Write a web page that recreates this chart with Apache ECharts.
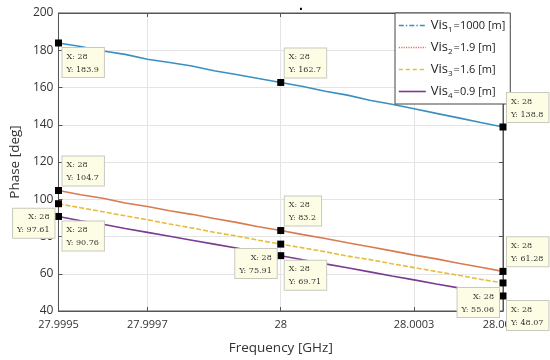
<!DOCTYPE html>
<html>
<head>
<meta charset="utf-8">
<script src="https://cdn.jsdelivr.net/npm/echarts@6/dist/echarts.min.js"></script>
<style>html,body{margin:0;padding:0;background:#fff}#c{width:550px;height:360px}</style>
</head>
<body>
<div id="c"></div>
<script>
// ---- data ----
var freq = [27.9995, 27.99955, 27.9996, 27.99965, 27.9997, 27.99975, 27.9998, 27.99985, 27.9999, 27.99995,
            28, 28.00005, 28.0001, 28.00015, 28.0002, 28.00025, 28.0003, 28.00035, 28.0004, 28.00045, 28.0005];
var vis1 = [183.9, 182.0, 179.6, 177.8, 175.2, 173.4, 171.5, 169.0, 167.0, 164.8, 162.7, 160.5, 158.0, 155.9, 153.2, 151.0, 148.6, 146.1, 143.7, 141.2, 138.8];
var vis2 = [104.7, 102.4, 100.5, 98.0, 96.1, 93.8, 91.9, 89.7, 87.6, 85.2, 83.2, 81.0, 78.9, 76.6, 74.5, 72.3, 70.0, 68.0, 65.6, 63.5, 61.28];
var vis3 = [97.61, 95.4, 93.3, 91.1, 89.0, 86.7, 84.6, 82.3, 80.3, 78.0, 75.91, 73.9, 71.8, 69.5, 67.6, 65.4, 63.3, 61.2, 59.2, 57.0, 55.06];
var vis4 = [90.76, 88.5, 86.6, 84.3, 82.2, 80.1, 78.0, 75.9, 73.8, 71.7, 69.71, 67.5, 65.3, 63.2, 61.0, 58.8, 56.7, 54.5, 52.4, 50.2, 48.07];
var seriesNames = ['Vis1=1000 [m]', 'Vis2=1.9 [m]', 'Vis3=1.6 [m]', 'Vis4=0.9 [m]'];
var legendSub = ['1', '2', '3', '4'];
var legendRest = ['=1000 [m]', '=1.9 [m]', '=1.6 [m]', '=0.9 [m]'];
var xTicks = [27.9995, 27.9997, 28, 28.0003, 28.0005];
var yMin = 40, yMax = 200, yStep = 20;
// data tips: [x, y] per series (left, middle, right)
var tipX = [27.9995, 28, 28.0005];
var tipXText = '28';
var tips1 = [183.9, 162.7, 138.8];
var tips2 = [104.7, 83.2, 61.28];
var tips3 = [97.61, 75.91, 55.06];
var tips4 = [90.76, 69.71, 48.07];

// ---- styles ----
var colors = ['#3a8fc2', '#d97a50', '#e6bd3c', '#7a3b92'];
var plotLineTypes = ['solid', 'solid', [5, 2], 'solid'];
var legendLineTypes = [[5, 2, 1.5, 2], [1.2, 1.2], [4, 3], 'solid'];
// tip placement per series per tip: [horizontal side, vertical side]
var tipPlace = [
  [['r', 'b'], ['r', 'a'], ['r', 'a']],
  [['r', 'a'], ['r', 'a'], ['r', 'a']],
  [['l', 'b'], ['l', 'b'], ['l', 'b']],
  [['r', 'b'], ['r', 'b'], ['r', 'b']]
];
var tipsAll = [tips1, tips2, tips3, tips4];
var dataAll = [vis1, vis2, vis3, vis4];

function fmtY(v) { return String(v); }

function makeMarkPoint(si) {
  var data = tipX.map(function (x, k) {
    var pl = tipPlace[si][k];
    var right = pl[0] === 'r';
    var above = pl[1] === 'a';
    var px = right ? 3.5 + 4 : 3.5 - 4;
    var py = above ? 3.5 - 5 : 3.5 + 5;
    return {
      coord: [x, tipsAll[si][k]],
      label: {
        show: true,
        position: [px, py],
        align: right ? 'left' : 'right',
        verticalAlign: above ? 'bottom' : 'top',
        formatter: 'X: ' + tipXText + '\nY: ' + fmtY(tipsAll[si][k])
      }
    };
  });
  return {
    symbol: 'rect',
    symbolSize: 7,
    itemStyle: { color: '#000' },
    z: 10,
    label: {
      fontFamily: 'DejaVu Serif',
      fontSize: 8,
      lineHeight: 13,
      color: '#333',
      backgroundColor: '#fdfde6',
      borderColor: '#c9c9c0',
      borderWidth: 1,
      padding: [2, 5, 1, 4]
    },
    data: data
  };
}

var series = dataAll.map(function (vals, si) {
  return {
    name: seriesNames[si],
    type: 'line',
    data: freq.map(function (f, i) { return [f, vals[i]]; }),
    showSymbol: false,
    symbol: 'none',
    lineStyle: { color: colors[si], width: 1.6, type: plotLineTypes[si] },
    itemStyle: { color: colors[si] },
    emphasis: { disabled: true },
    animation: false,
    markPoint: makeMarkPoint(si)
  };
});

var axisColor = '#555';

var option = {
  animation: false,
  title: { text: '.', left: 294, top: -6, textStyle: { fontSize: 14, color: '#000' } },
  grid: { left: 47, right: 47, top: 13, bottom: 44, show: true, borderColor: axisColor, borderWidth: 1, backgroundColor: 'transparent' },
  legend: {
    orient: 'vertical',
    left: 395,
    top: 13,
    itemWidth: 27,
    itemHeight: 12,
    itemGap: 7,
    padding: [6, 5, 4, 3],
    backgroundColor: '#fff',
    borderColor: '#444',
    borderWidth: 1,
    z: 8,
    data: seriesNames.map(function (n, i) {
      return {
        name: n,
        itemStyle: { color: 'rgba(0,0,0,0)', borderColor: 'rgba(0,0,0,0)', borderWidth: 0, opacity: 0 },
        lineStyle: { type: legendLineTypes[i], width: 1.6, color: colors[i], opacity: 1 }
      };
    }),
    formatter: function (name) {
      var i = seriesNames.indexOf(name);
      return '{v|Vis}{s|' + legendSub[i] + '}{r|' + legendRest[i] + '}';
    },
    textStyle: {
      color: '#222',
      rich: {
        v: { fontFamily: 'Open Sans', fontSize: 13, color: '#222' },
        s: { fontFamily: 'Open Sans', fontSize: 8, color: '#222', padding: [9, 1, 0, 0] },
        r: { fontFamily: 'Open Sans', fontSize: 11, color: '#222' }
      }
    }
  },
  xAxis: [{
    type: 'value',
    min: xTicks[0],
    max: xTicks[xTicks.length - 1],
    name: 'Frequency [GHz]',
    nameLocation: 'middle',
    nameGap: 30,
    nameTextStyle: { fontFamily: 'Open Sans', fontSize: 13.5, color: '#333' },
    axisLine: { show: true, lineStyle: { color: axisColor } },
    axisTick: { show: true, inside: true, length: 4, lineStyle: { color: axisColor }, customValues: xTicks },
    axisLabel: {
      customValues: xTicks,
      margin: 8,
      fontFamily: 'Open Sans', fontSize: 11, color: '#333',
      formatter: function (v) { return String(parseFloat(v.toFixed(4))); }
    },
    splitLine: { show: true, lineStyle: { color: '#e4e4e4' } }
  }, {
    type: 'value',
    position: 'top',
    min: xTicks[0],
    max: xTicks[xTicks.length - 1],
    axisLine: { show: true, lineStyle: { color: axisColor } },
    axisTick: { show: true, inside: true, length: 4, lineStyle: { color: axisColor }, customValues: xTicks },
    axisLabel: { show: false },
    splitLine: { show: false }
  }],
  yAxis: [{
    type: 'value',
    min: yMin,
    max: yMax,
    interval: yStep,
    name: 'Phase [deg]',
    nameLocation: 'middle',
    nameGap: 32,
    nameTextStyle: { fontFamily: 'Open Sans', fontSize: 13.5, color: '#333' },
    axisLine: { show: true, lineStyle: { color: axisColor } },
    axisTick: { show: true, inside: true, length: 4, lineStyle: { color: axisColor } },
    axisLabel: { margin: 5, fontFamily: 'Open Sans', fontSize: 12, color: '#333' },
    splitLine: { show: true, lineStyle: { color: '#e4e4e4' } }
  }, {
    type: 'value',
    position: 'right',
    min: yMin,
    max: yMax,
    interval: yStep,
    axisLine: { show: true, lineStyle: { color: axisColor } },
    axisTick: { show: true, inside: true, length: 4, lineStyle: { color: axisColor } },
    axisLabel: { show: false },
    splitLine: { show: false }
  }],
  series: series
};

var chart = echarts.init(document.getElementById('c'), null, { renderer: 'canvas' });
chart.setOption(option);
</script>
</body>
</html>
